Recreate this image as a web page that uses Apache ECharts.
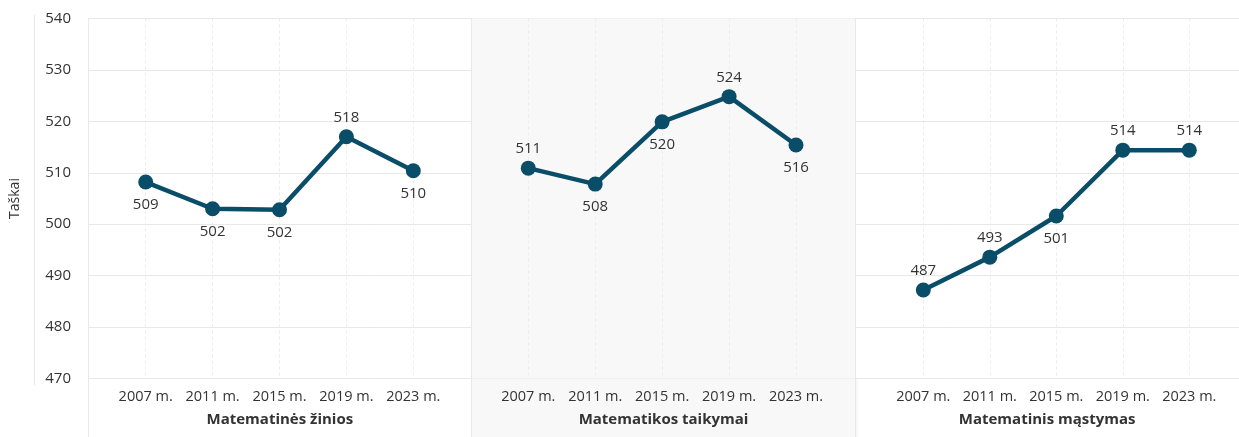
<!DOCTYPE html>
<html>
<head>
<meta charset="utf-8">
<script src="https://cdn.jsdelivr.net/npm/echarts@6/dist/echarts.min.js"></script>
<style>
  html, body { margin: 0; padding: 0; background: #fff; }
  #chart { width: 1239px; height: 437px; }
</style>
</head>
<body>
<div id="chart"></div>
<script>
  // duomenys
  const years = ['2007 m.', '2011 m.', '2015 m.', '2019 m.', '2023 m.']
  const panels = ['Matematinės žinios', 'Matematikos taikymai', 'Matematinis mąstymas']
  const yTicks = [470, 540, 10] // min, max, step
  // taškų padėtis grafike
  const zinios = [508.2, 503.0, 502.8, 517.0, 510.4]
  const taikymai = [510.9, 507.8, 519.9, 524.8, 515.4]
  const mastymas = [487.2, 493.6, 501.6, 514.4, 514.4]
  // užrašai prie taškų
  const ziniosLabels = ['509', '502', '502', '518', '510']
  const taikymaiLabels = ['511', '508', '520', '524', '516']
  const mastymasLabels = ['487', '493', '501', '514', '514']
  // užrašo vieta: virš ar po tašku
  const ziniosPos = ['bottom', 'bottom', 'bottom', 'top', 'bottom']
  const taikymaiPos = ['top', 'bottom', 'bottom', 'top', 'bottom']
  const mastymasPos = ['top', 'top', 'bottom', 'top', 'top']

  const lineColor = '#0a4d68'
  const gridColor = '#e8e8e8'
  const font = '"Open Sans", "Noto Sans", sans-serif'
  const gridTop = 18.5
  const gridBottom = 58.5
  // x pozicijos kiekvienam skydeliui (pirmo ir paskutinio taško)
  const plotGrids = [
    {left: 145.7, right: 1239 - 413.3},
    {left: 528.3, right: 1239 - 796},
    {left: 923.3, right: 1239 - 1189.3}
  ]

  function makeData (vals, labels, pos) {
    return vals.map((v, i) => ({
      value: v,
      label: {position: pos[i], distance: pos[i] === 'top' ? 4 : 8, formatter: labels[i]}
    }))
  }

  const chart = echarts.init(document.getElementById('chart'))
  const grids = [{left: 87, right: -4, top: gridTop, bottom: gridBottom}]
  const xAxes = [{
    type: 'category',
    gridIndex: 0,
    data: panels,
    boundaryGap: true,
    axisLine: {show: false},
    axisTick: {show: true, length: 59, lineStyle: {color: gridColor}},
    axisLabel: {margin: 34, fontFamily: font, fontSize: 15, fontWeight: 'bold', color: '#333'},
    splitLine: {show: true, lineStyle: {color: gridColor}},
    splitArea: {show: true, areaStyle: {color: ['rgba(0,0,0,0)', '#f8f8f8']}}
  }]
  const yAxes = [{
    type: 'value',
    gridIndex: 0,
    min: yTicks[0],
    max: yTicks[1],
    interval: yTicks[2],
    name: 'Taškai',
    nameLocation: 'middle',
    nameGap: 66,
    nameTextStyle: {fontFamily: font, fontSize: 14, color: '#333'},
    axisLine: {show: false},
    axisTick: {show: false},
    axisLabel: {margin: 17, fontFamily: font, fontSize: 15, color: '#333'},
    splitLine: {lineStyle: {color: gridColor}}
  }]
  plotGrids.forEach((g, i) => {
    grids.push({left: g.left, right: g.right, top: gridTop, bottom: gridBottom})
    xAxes.push({
      type: 'category',
      gridIndex: i + 1,
      data: years,
      boundaryGap: false,
      axisLine: {show: false},
      axisTick: {show: false},
      axisLabel: {interval: 0, margin: 11, fontFamily: font, fontSize: 14.5, color: '#333'},
      splitLine: {show: true, interval: 0, lineStyle: {color: '#ececec', type: [3, 3]}}
    })
    yAxes.push({
      type: 'value',
      gridIndex: i + 1,
      min: yTicks[0],
      max: yTicks[1],
      show: false,
      splitLine: {show: false}
    })
  })

  const seriesData = [
    makeData(zinios, ziniosLabels, ziniosPos),
    makeData(taikymai, taikymaiLabels, taikymaiPos),
    makeData(mastymas, mastymasLabels, mastymasPos)
  ]

  chart.setOption({
    animation: false,
    grid: grids,
    xAxis: xAxes,
    yAxis: yAxes,
    graphic: [
      {type: 'rect', z: -1, shape: {x: 472, y: 437 - gridBottom, width: 386, height: gridBottom}, style: {fill: '#f8f8f8'}},
      {type: 'line', shape: {x1: 34.5, y1: 15, x2: 34.5, y2: 385}, style: {stroke: gridColor, lineWidth: 1}}
    ],
    series: seriesData.map((d, i) => ({
      type: 'line',
      xAxisIndex: i + 1,
      yAxisIndex: i + 1,
      data: d,
      symbol: 'circle',
      symbolSize: 15,
      clip: false,
      lineStyle: {color: lineColor, width: 4.5},
      itemStyle: {color: lineColor},
      label: {show: true, fontFamily: font, fontSize: 15, color: '#333'}
    }))
  })
</script>
</body>
</html>
